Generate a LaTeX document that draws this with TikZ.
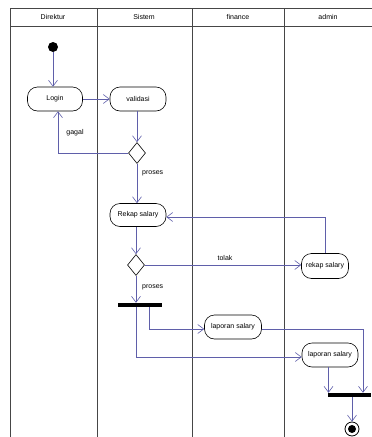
\documentclass[tikz,border=0pt]{standalone}
\usepackage{fontspec}
\setmainfont{Liberation Sans}
\usetikzlibrary{arrows.meta,shapes.geometric}
\definecolor{flow}{RGB}{95,95,170}
\definecolor{lane}{RGB}{70,70,70}
\tikzset{
  act/.style={draw=black, fill=white, rounded corners=10pt, minimum height=24pt, inner sep=1pt, font=\fontsize{7}{8}\selectfont, line width=0.6pt},
  dec/.style={draw=black, fill=white, diamond, inner sep=0pt, minimum width=17pt, minimum height=21pt, line width=0.6pt},
  bar/.style={fill=black, inner sep=0pt, minimum height=4pt},
  flowline/.style={draw=flow, line width=0.6pt, -{Straight Barb[length=6pt,width=9pt]}},
  lbl/.style={font=\fontsize{7}{8}\selectfont, inner sep=1pt},
  lanes/.style={draw=lane, line width=1pt}
}
\begin{document}
\begin{tikzpicture}[x=1pt,y=-1pt]
\useasboundingbox (0,0) rectangle (372,437);
% swimlanes
\draw[lanes] (372,8) -- (10,8) -- (10,437);
\draw[lanes] (10,26) -- (372,26);
\draw[lanes] (97,8) -- (97,437);
\draw[lanes] (192,8) -- (192,437);
\draw[lanes] (284,8) -- (284,437);
\node[lbl] (hDir) at (53,17) {Direktur};
\node[lbl] (hSis) at (144,17) {Sistem};
\node[lbl] (hFin) at (238,17) {finance};
\node[lbl] (hAdm) at (328,17) {admin};
% nodes
\node[circle, fill=black, inner sep=0pt, minimum size=10pt] (start) at (53,47) {};
\node[act, minimum width=55pt] (login) at (55,99) {Login};
\node[act, minimum width=56pt] (valid) at (138,99) {validasi};
\node[dec] (d1) at (137,153) {};
\node[act, minimum width=56pt, minimum height=23pt] (rekap) at (138,215) {Rekap salary};
\node[dec] (d2) at (136,265) {};
\node[act, minimum width=47pt, minimum height=25pt] (rekapA) at (325,266) {rekap salary};
\node[bar, minimum width=44pt] (fork) at (140,305) {};
\node[act, minimum width=57pt] (lapF) at (233,327) {laporan salary};
\node[act, minimum width=56pt] (lapA) at (330,355) {laporan salary};
\node[bar, minimum width=43pt] (join) at (349.5,395) {};
\node[circle, draw=black, line width=0.8pt, fill=white, inner sep=0pt, minimum size=14pt] (end) at (352,429) {};
\node[circle, fill=black, inner sep=0pt, minimum size=8pt] (endin) at (end) {};
% connectors
\draw[flowline] (start) -- (start |- login.north);
\draw[flowline] (login) -- (valid);
\draw[flowline] (valid.south -| d1) -- (d1.north);
\draw[flowline] (d1.west) -| ([xshift=3pt]login.south);
\node[lbl] (gagal) at (75,133) {gagal};
\draw[flowline] (d1.south) -- (d1.south |- rekap.north);
\node[lbl, anchor=west] (pros1) at (141,173) {proses};
\draw[flowline] (rekap.south -| d2) -- (d2.north);
\draw[flowline] (d2.east) -- (d2 -| rekapA.west);
\node[lbl] (tolak) at (225,258) {tolak};
\draw[flowline] (rekapA.north) |- ([yshift=-2pt]rekap.east);
\draw[flowline] (d2.south) -- (d2.south |- fork.north);
\node[lbl, anchor=west] (pros2) at (141,287) {proses};
\draw[flowline] ([xshift=9pt]fork.south) |- ([yshift=-2pt]lapF.west);
\draw[flowline] ([xshift=-4pt]fork.south) |- ([yshift=-2pt]lapA.west);
\draw[flowline] ([yshift=-2pt]lapF.east) -| ([xshift=13.5pt]join.north);
\draw[flowline] ([xshift=-1.5pt]lapA.south) -- ([xshift=-1.5pt]lapA.south |- join.north);
\draw[flowline] (join.south -| end) -- (end.north);
\end{tikzpicture}
\end{document}
